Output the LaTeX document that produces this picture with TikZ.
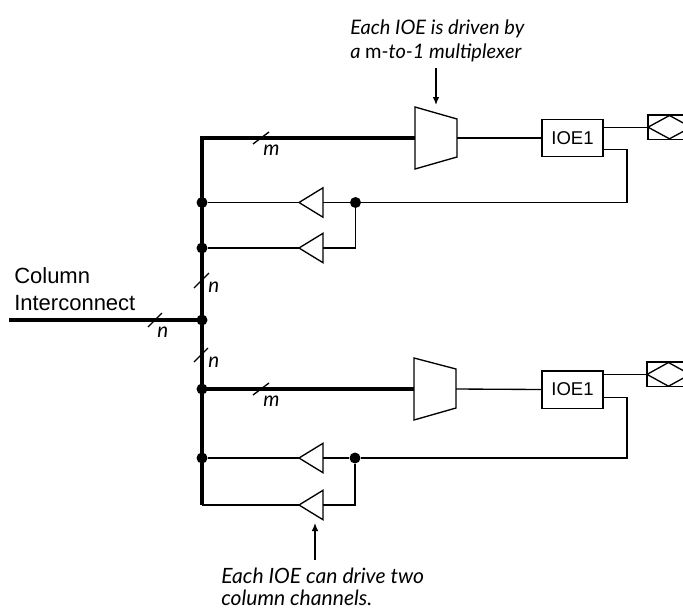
\documentclass[tikz,border=0pt]{standalone}
\usepackage{fontspec}
\setmainfont{Liberation Sans}
\newfontfamily\notefont{Lato}
\usetikzlibrary{arrows.meta}

\tikzset{
  bus/.style={line width=3pt},
  wire/.style={line width=1pt},
  jdot/.style={circle,fill,inner sep=0pt,minimum size=8.25pt},
  ioebox/.style={draw,line width=1pt,inner sep=0pt,minimum width=45.75pt,minimum height=28pt,font=\fontsize{13.9}{16}\selectfont},
  note/.style={inner sep=0pt,align=left,font=\notefont\itshape\fontsize{15}{18}\selectfont},
  lbl/.style={inner sep=0pt,font=\notefont\itshape\fontsize{15.4}{18}\selectfont},
  pointer/.style={wire,-{Latex[length=6pt,width=5pt]}}
}

\begin{document}
\begin{tikzpicture}[x=0.75pt,y=0.75pt,yscale=-1,xscale=1]
\useasboundingbox (0,0) rectangle (683,612);
\clip (0,0) rectangle (683,612);

%Coordinates on the bus
\coordinate (bustop) at (202,138);
\coordinate (busbot) at (202,505);
\coordinate (colin) at (9,320);
\coordinate (mux1in) at (415,138);
\coordinate (mux1out) at (457,138);
\coordinate (mux2in) at (414,389);
\coordinate (mux2out) at (456,389);

%Shape: Mux upper
\draw[wire] (415,107) -- (457,119) -- (457,157) -- (415,169) -- cycle ;
%Shape: Mux lower
\draw[wire] (414,358) -- (456,369) -- (456,408) -- (414,420) -- cycle ;

%Shape: IOE boxes
\node[ioebox] (ioe1) at (572.5,138) {IOE1};
\node[ioebox] (ioe2) at (572.5,389.5) {IOE1};

%Shape: Pads
\coordinate (pad1in) at (648,127.2);
\coordinate (pad2in) at (647,374.4);
\draw[wire] (648,115) rectangle (700,139.3) ;
\draw[wire] (pad1in) -- (669.5,115.5) -- (691,127.2) -- (669.5,138.8) -- cycle ;
\draw[wire] (647,362) rectangle (700,386.7) ;
\draw[wire] (pad2in) -- (668.5,362.5) -- (690,374.4) -- (668.5,386.2) -- cycle ;

%Shape: Buffers
\coordinate (b1atip) at (299,202.5); \coordinate (b1abase) at (323,202.5);
\coordinate (b1btip) at (299,248);   \coordinate (b1bbase) at (323,248);
\coordinate (b2atip) at (299,458);   \coordinate (b2abase) at (323,458);
\coordinate (b2btip) at (299,505);   \coordinate (b2bbase) at (323,505);
\draw[wire] (b1atip) -- (323,187.8) -- (323,217.2) -- cycle ;
\draw[wire] (b1btip) -- (323,233.3) -- (323,262.7) -- cycle ;
\draw[wire] (b2atip) -- (323,443.3) -- (323,472.7) -- cycle ;
\draw[wire] (b2btip) -- (323,490.3) -- (323,519.7) -- cycle ;

%Junctions
\node[jdot] (d1) at (202,202.5) {};
\node[jdot] (d2) at (202,248) {};
\node[jdot] (dcol) at (202,320) {};
\node[jdot] (d3) at (202,389) {};
\node[jdot] (d4) at (202,458) {};
\node[jdot] (j1) at (355.5,202.5) {};
\node[jdot] (j2) at (355,458) {};
\coordinate (fb1) at (627,149.3);
\coordinate (fb2) at (627,397.7);

%Thick Lines
\draw[bus] (mux1in) -- (bustop) -- (busbot) ;
\draw[bus] (colin) -- (dcol.center) ;
\draw[bus] (d3.center) -- (mux2in) ;

%Straight Lines
\draw[wire] (mux1out) -- (ioe1.west) ;
\draw[wire] (ioe1.east |- pad1in) -- (pad1in) ;
\draw[wire] (ioe1.east |- fb1) -- (fb1) |- (j1) ;
\draw[wire] (j1) -- (b1abase) ;
\draw[wire] (j1) |- (b1bbase) ;
\draw[wire] (b1atip) -- (d1) ;
\draw[wire] (b1btip) -- (d2) ;
\draw[wire] (mux2out) -- (ioe2.west) ;
\draw[wire] (ioe2.east |- pad2in) -- (pad2in) ;
\draw[wire] (ioe2.east |- fb2) -- (fb2) |- (j2) ;
\draw[wire] (j2) -- (b2abase) ;
\draw[wire] (j2) |- (b2bbase) ;
\draw[wire] (b2atip) -- (d4) ;
\draw[wire] (b2btip) -- (busbot) ;

%Bus width marks
\draw[wire] (253,144) -- (269,132) ;
\draw[wire] (194,288) -- (209,273) ;
\draw[wire] (148,327) -- (162,313) ;
\draw[wire] (194,362) -- (208,348) ;
\draw[wire] (253,395) -- (269,383) ;

% Text Node
\node[lbl,anchor=base west] (m1) at (263,155) {m};
\node[lbl,anchor=base west] (n1) at (208,292) {n};
\node[lbl,anchor=base west] (n2) at (157,337) {n};
\node[lbl,anchor=base west] (n3) at (208,367) {n};
\node[lbl,anchor=base west] (m2) at (263,406) {m};
% Text Node
\node[inner sep=0pt,align=left,anchor=base west,font=\fontsize{16.5}{20.25}\selectfont] (colname) at (14,310) {Column\\Interconnect};
% Text Node
\node[note,anchor=base west] (note1) at (350,58) {Each IOE is driven by\\a {\upshape m}-to-1 multiplexer};
\node[note,anchor=base west,font=\notefont\itshape\fontsize{15.8}{16.5}\selectfont] (note2) at (221,605) {Each IOE can drive two\\column channels.};

%Pointers
\coordinate (p1) at (436,68); \coordinate (p1tip) at (436,105);
\coordinate (p2) at (315,560); \coordinate (p2tip) at (315,523);
\draw[pointer] (p1) -- (p1tip) ;
\draw[pointer] (p2) -- (p2tip) ;
\end{tikzpicture}
\end{document}
